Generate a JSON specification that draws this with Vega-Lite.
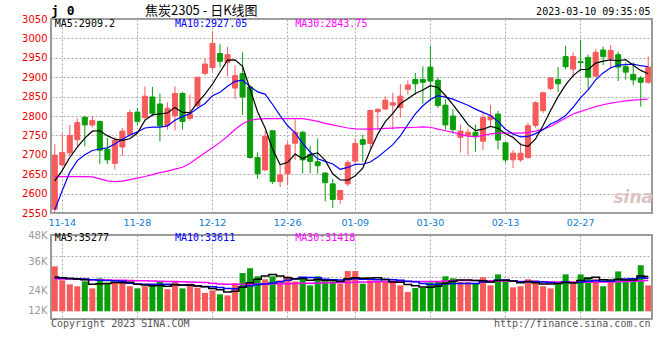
{
"$schema": "https://vega.github.io/schema/vega-lite/v6.json",
"background": "white",
"padding": {"left": 20, "top": 4, "right": 5, "bottom": 4},
"spacing": 1,
"datasets": {"k": [
{"d":"2022-11-11","o":2560,"h":2727,"l":2552,"c":2699,"m5":2633,"m10":2558,"m30":2644,"v":30100,"v5":24000,"v10":23600,"v30":23000},
{"d":"2022-11-14","o":2674,"h":2754,"l":2670,"c":2706,"m5":2660,"m10":2608,"m30":2644,"v":22100,"v5":23600,"v10":23400,"v30":22900},
{"d":"2022-11-15","o":2705,"h":2777,"l":2697,"c":2750,"m5":2693,"m10":2655,"m30":2644,"v":19800,"v5":23200,"v10":23200,"v30":22800},
{"d":"2022-11-16","o":2739,"h":2794,"l":2722,"c":2783,"m5":2720,"m10":2685,"m30":2644,"v":18700,"v5":22800,"v10":23000,"v30":22700},
{"d":"2022-11-17","o":2797,"h":2800,"l":2722,"c":2777,"m5":2743,"m10":2700,"m30":2644,"v":21500,"v5":22440,"v10":22800,"v30":22600},
{"d":"2022-11-18","o":2777,"h":2800,"l":2771,"c":2788,"m5":2760.8,"m10":2711,"m30":2643,"v":17500,"v5":19920,"v10":22500,"v30":22500},
{"d":"2022-11-21","o":2786,"h":2788,"l":2676,"c":2712,"m5":2762,"m10":2715,"m30":2638,"v":23200,"v5":20140,"v10":22200,"v30":22400},
{"d":"2022-11-22","o":2714,"h":2744,"l":2676,"c":2687,"m5":2749.4,"m10":2718,"m30":2633,"v":20400,"v5":20260,"v10":22000,"v30":22300},
{"d":"2022-11-23","o":2678,"h":2745,"l":2662,"c":2737,"m5":2740.2,"m10":2728,"m30":2631,"v":21500,"v5":20820,"v10":21800,"v30":22200},
{"d":"2022-11-24","o":2720,"h":2769,"l":2697,"c":2761,"m5":2737,"m10":2740,"m30":2632,"v":21000,"v5":20720,"v10":21580,"v30":22100},
{"d":"2022-11-25","o":2752,"h":2816,"l":2745,"c":2809,"m5":2741.2,"m10":2751,"m30":2636,"v":18700,"v5":20960,"v10":20440,"v30":22000},
{"d":"2022-11-28","o":2810,"h":2821,"l":2775,"c":2786,"m5":2756,"m10":2759,"m30":2640,"v":17500,"v5":19820,"v10":19980,"v30":21900},
{"d":"2022-11-29","o":2796,"h":2876,"l":2790,"c":2851,"m5":2788.8,"m10":2769.1,"m30":2644,"v":18700,"v5":19480,"v10":19870,"v30":21800},
{"d":"2022-11-30","o":2849,"h":2875,"l":2800,"c":2807,"m5":2802.8,"m10":2771.5,"m30":2649,"v":19200,"v5":19020,"v10":19920,"v30":21700},
{"d":"2022-12-01","o":2831,"h":2858,"l":2735,"c":2775,"m5":2805.6,"m10":2771.3,"m30":2654,"v":21300,"v5":19080,"v10":19900,"v30":21600},
{"d":"2022-12-02","o":2776,"h":2835,"l":2765,"c":2820,"m5":2807.8,"m10":2774.5,"m30":2658,"v":17000,"v5":18740,"v10":19850,"v30":21500},
{"d":"2022-12-05","o":2801,"h":2876,"l":2763,"c":2858,"m5":2822.2,"m10":2789.1,"m30":2663,"v":21500,"v5":19540,"v10":19680,"v30":21400},
{"d":"2022-12-06","o":2858,"h":2862,"l":2765,"c":2786,"m5":2809.2,"m10":2799,"m30":2668,"v":17500,"v5":19300,"v10":19390,"v30":21300},
{"d":"2022-12-07","o":2794,"h":2855,"l":2788,"c":2805,"m5":2808.8,"m10":2805.8,"m30":2678,"v":20200,"v5":19500,"v10":19260,"v30":21200},
{"d":"2022-12-08","o":2827,"h":2901,"l":2818,"c":2900,"m5":2833.8,"m10":2819.7,"m30":2692,"v":17900,"v5":18820,"v10":18950,"v30":21000},
{"d":"2022-12-09","o":2910,"h":2949,"l":2905,"c":2934,"m5":2856.6,"m10":2832.2,"m30":2705,"v":14900,"v5":18400,"v10":18570,"v30":20800},
{"d":"2022-12-12","o":2925,"h":3018,"l":2915,"c":2987,"m5":2882.4,"m10":2852.3,"m30":2718,"v":16400,"v5":17380,"v10":18460,"v30":20500},
{"d":"2022-12-13","o":2961,"h":2986,"l":2925,"c":2941,"m5":2913.4,"m10":2861.3,"m30":2732,"v":14100,"v5":16700,"v10":18000,"v30":20000},
{"d":"2022-12-14","o":2938,"h":2978,"l":2902,"c":2958,"m5":2944,"m10":2876.4,"m30":2748,"v":13500,"v5":15360,"v10":17430,"v30":19900},
{"d":"2022-12-15","o":2872,"h":2930,"l":2843,"c":2904,"m5":2944.8,"m10":2889.3,"m30":2765,"v":20400,"v5":15860,"v10":17340,"v30":19800},
{"d":"2022-12-16","o":2909,"h":2964,"l":2803,"c":2849,"m5":2927.8,"m10":2892.2,"m30":2780,"v":26300,"v5":18140,"v10":18270,"v30":19800},
{"d":"2022-12-19","o":2875,"h":2880,"l":2690,"c":2693,"m5":2869,"m10":2875.7,"m30":2789,"v":29000,"v5":20660,"v10":19020,"v30":19900},
{"d":"2022-12-20","o":2693,"h":2706,"l":2638,"c":2651,"m5":2811,"m10":2862.2,"m30":2792,"v":24400,"v5":22720,"v10":19710,"v30":20000},
{"d":"2022-12-21","o":2661,"h":2761,"l":2659,"c":2748,"m5":2769,"m10":2856.5,"m30":2793,"v":22700,"v5":24560,"v10":19960,"v30":20000},
{"d":"2022-12-22","o":2762,"h":2762,"l":2625,"c":2631,"m5":2714.4,"m10":2829.6,"m30":2793,"v":24400,"v5":25360,"v10":20610,"v30":20100},
{"d":"2022-12-23","o":2631,"h":2672,"l":2617,"c":2648,"m5":2674.2,"m10":2801,"m30":2793,"v":22100,"v5":24520,"v10":21330,"v30":20100},
{"d":"2022-12-26","o":2651,"h":2734,"l":2621,"c":2725,"m5":2680.6,"m10":2774.8,"m30":2793,"v":24400,"v5":23600,"v10":22130,"v30":20200},
{"d":"2022-12-27","o":2730,"h":2792,"l":2686,"c":2758,"m5":2702,"m10":2756.5,"m30":2793,"v":21500,"v5":23020,"v10":22870,"v30":20300},
{"d":"2022-12-28","o":2758,"h":2762,"l":2652,"c":2687,"m5":2689.8,"m10":2729.4,"m30":2793,"v":23200,"v5":23120,"v10":23840,"v30":20400},
{"d":"2022-12-29","o":2701,"h":2723,"l":2652,"c":2683,"m5":2700.2,"m10":2707.3,"m30":2790,"v":19200,"v5":22080,"v10":23720,"v30":20500},
{"d":"2022-12-30","o":2682,"h":2742,"l":2651,"c":2672,"m5":2705,"m10":2689.6,"m30":2786,"v":24400,"v5":22540,"v10":23530,"v30":20550},
{"d":"2023-01-03","o":2653,"h":2655,"l":2580,"c":2628,"m5":2685.6,"m10":2683.1,"m30":2781,"v":21500,"v5":21960,"v10":22780,"v30":20650},
{"d":"2023-01-04","o":2625,"h":2638,"l":2563,"c":2585,"m5":2651,"m10":2676.5,"m30":2777,"v":21500,"v5":21960,"v10":22490,"v30":20750},
{"d":"2023-01-05","o":2585,"h":2610,"l":2574,"c":2608,"m5":2635.2,"m10":2662.5,"m30":2773,"v":20200,"v5":21360,"v10":22240,"v30":20850},
{"d":"2023-01-06","o":2625,"h":2686,"l":2620,"c":2680,"m5":2634.6,"m10":2667.4,"m30":2769,"v":27400,"v5":23000,"v10":22540,"v30":20900},
{"d":"2023-01-09","o":2684,"h":2742,"l":2672,"c":2729,"m5":2646,"m10":2675.5,"m30":2767,"v":27400,"v5":23600,"v10":23070,"v30":21000},
{"d":"2023-01-10","o":2739,"h":2752,"l":2682,"c":2727,"m5":2665.8,"m10":2675.7,"m30":2766,"v":20200,"v5":23340,"v10":22650,"v30":21100},
{"d":"2023-01-11","o":2729,"h":2816,"l":2716,"c":2814,"m5":2711.6,"m10":2681.3,"m30":2766,"v":22100,"v5":23460,"v10":22710,"v30":21200},
{"d":"2023-01-12","o":2811,"h":2820,"l":2765,"c":2817,"m5":2753.4,"m10":2694.3,"m30":2767,"v":21100,"v5":23640,"v10":22500,"v30":21300},
{"d":"2023-01-13","o":2818,"h":2851,"l":2816,"c":2841,"m5":2785.6,"m10":2710.1,"m30":2768,"v":21100,"v5":22380,"v10":22690,"v30":21350},
{"d":"2023-01-16","o":2828,"h":2860,"l":2765,"c":2834,"m5":2806.6,"m10":2726.3,"m30":2769,"v":21500,"v5":21200,"v10":22400,"v30":21400},
{"d":"2023-01-17","o":2822,"h":2882,"l":2796,"c":2851,"m5":2831.4,"m10":2748.6,"m30":2770,"v":19200,"v5":21000,"v10":22170,"v30":21400},
{"d":"2023-01-18","o":2869,"h":2892,"l":2855,"c":2880,"m5":2844.6,"m10":2778.1,"m30":2770,"v":15400,"v5":19660,"v10":21560,"v30":21400},
{"d":"2023-01-19","o":2894,"h":2911,"l":2855,"c":2883,"m5":2857.8,"m10":2805.6,"m30":2771,"v":17700,"v5":18980,"v10":21310,"v30":21400},
{"d":"2023-01-20","o":2894,"h":2928,"l":2832,"c":2887,"m5":2867,"m10":2826.3,"m30":2772,"v":17700,"v5":18300,"v10":20340,"v30":21400},
{"d":"2023-01-30","o":2926,"h":2981,"l":2837,"c":2890,"m5":2878.2,"m10":2842.4,"m30":2771,"v":21000,"v5":18200,"v10":19700,"v30":21370},
{"d":"2023-01-31","o":2892,"h":2900,"l":2821,"c":2827,"m5":2873.4,"m10":2852.4,"m30":2766,"v":21500,"v5":18660,"v10":19830,"v30":21500},
{"d":"2023-02-01","o":2828,"h":2843,"l":2765,"c":2777,"m5":2852.8,"m10":2848.7,"m30":2762,"v":24400,"v5":20460,"v10":20060,"v30":21650},
{"d":"2023-02-02","o":2800,"h":2818,"l":2755,"c":2765,"m5":2829.2,"m10":2843.5,"m30":2758,"v":23200,"v5":21560,"v10":20270,"v30":21800},
{"d":"2023-02-03","o":2745,"h":2778,"l":2706,"c":2761,"m5":2804,"m10":2835.5,"m30":2752,"v":21100,"v5":22240,"v10":20270,"v30":21950},
{"d":"2023-02-06","o":2750,"h":2767,"l":2700,"c":2758,"m5":2777.6,"m10":2827.9,"m30":2748,"v":21100,"v5":22260,"v10":20230,"v30":22050},
{"d":"2023-02-07","o":2758,"h":2778,"l":2708,"c":2750,"m5":2762.2,"m10":2817.8,"m30":2746,"v":20400,"v5":22040,"v10":20350,"v30":21950},
{"d":"2023-02-08","o":2735,"h":2811,"l":2712,"c":2796,"m5":2766,"m10":2809.4,"m30":2750,"v":23800,"v5":21920,"v10":21190,"v30":21900},
{"d":"2023-02-09","o":2790,"h":2828,"l":2773,"c":2800,"m5":2773,"m10":2801.1,"m30":2754,"v":19200,"v5":21120,"v10":21340,"v30":21800},
{"d":"2023-02-10","o":2805,"h":2813,"l":2714,"c":2738,"m5":2768.4,"m10":2786.2,"m30":2756,"v":25500,"v5":22000,"v10":22120,"v30":21750},
{"d":"2023-02-13","o":2731,"h":2733,"l":2680,"c":2687,"m5":2754.2,"m10":2765.9,"m30":2756,"v":22100,"v5":22200,"v10":22230,"v30":21670},
{"d":"2023-02-14","o":2687,"h":2712,"l":2666,"c":2704,"m5":2745,"m10":2753.6,"m30":2756,"v":18100,"v5":21740,"v10":21890,"v30":21600},
{"d":"2023-02-15","o":2687,"h":2731,"l":2682,"c":2704,"m5":2726.6,"m10":2746.3,"m30":2756,"v":18700,"v5":20720,"v10":21320,"v30":21500},
{"d":"2023-02-16","o":2693,"h":2783,"l":2690,"c":2775,"m5":2721.6,"m10":2747.3,"m30":2758,"v":22700,"v5":21420,"v10":21270,"v30":21400},
{"d":"2023-02-17","o":2776,"h":2838,"l":2770,"c":2834,"m5":2740.8,"m10":2754.6,"m30":2761,"v":22100,"v5":20740,"v10":21370,"v30":21300},
{"d":"2023-02-20","o":2814,"h":2862,"l":2808,"c":2860,"m5":2775.4,"m10":2764.8,"m30":2766,"v":18700,"v5":20060,"v10":21130,"v30":21250},
{"d":"2023-02-21","o":2871,"h":2900,"l":2866,"c":2898,"m5":2814.2,"m10":2779.6,"m30":2773,"v":17500,"v5":19940,"v10":20840,"v30":21200},
{"d":"2023-02-22","o":2894,"h":2926,"l":2862,"c":2883,"m5":2850,"m10":2788.3,"m30":2784,"v":20200,"v5":20240,"v10":20480,"v30":21100},
{"d":"2023-02-23","o":2953,"h":2981,"l":2920,"c":2927,"m5":2880.4,"m10":2801,"m30":2795,"v":25500,"v5":20800,"v10":21110,"v30":21050},
{"d":"2023-02-24","o":2921,"h":2964,"l":2900,"c":2953,"m5":2904.2,"m10":2822.5,"m30":2805,"v":21500,"v5":20680,"v10":20710,"v30":21000},
{"d":"2023-02-27","o":2940,"h":2996,"l":2915,"c":2938,"m5":2919.8,"m10":2847.6,"m30":2812,"v":25500,"v5":22040,"v10":21050,"v30":20990},
{"d":"2023-02-28","o":2951,"h":2958,"l":2868,"c":2900,"m5":2920.2,"m10":2867.2,"m30":2818,"v":23800,"v5":23300,"v10":21620,"v30":21050},
{"d":"2023-03-01","o":2903,"h":2972,"l":2900,"c":2964,"m5":2936.4,"m10":2893.2,"m30":2824,"v":22700,"v5":23800,"v10":22020,"v30":21100},
{"d":"2023-03-02","o":2970,"h":2979,"l":2931,"c":2953,"m5":2941.6,"m10":2911,"m30":2829,"v":18700,"v5":22440,"v10":21620,"v30":21150},
{"d":"2023-03-03","o":2948,"h":2983,"l":2921,"c":2969,"m5":2944.8,"m10":2924.5,"m30":2833,"v":21000,"v5":22340,"v10":21510,"v30":21200},
{"d":"2023-03-06","o":2958,"h":2966,"l":2890,"c":2926,"m5":2942.4,"m10":2931.1,"m30":2836,"v":27200,"v5":22680,"v10":22360,"v30":21240},
{"d":"2023-03-07","o":2927,"h":2938,"l":2894,"c":2913,"m5":2945,"m10":2932.6,"m30":2839,"v":22100,"v5":22340,"v10":22820,"v30":21400},
{"d":"2023-03-08","o":2907,"h":2938,"l":2879,"c":2893,"m5":2930.8,"m10":2933.6,"m30":2841,"v":22100,"v5":22220,"v10":23010,"v30":21600},
{"d":"2023-03-09","o":2898,"h":2903,"l":2824,"c":2887,"m5":2917.6,"m10":2929.6,"m30":2842,"v":30700,"v5":24620,"v10":23530,"v30":21800},
{"d":"2023-03-10","o":2887,"h":2953,"l":2883,"c":2926,"m5":2909,"m10":2926.9,"m30":2843.75,"v":19200,"v5":24260,"v10":23300,"v30":22040}
]},
"vconcat": [
{
"width": 601, "height": 194,
"layer": [
{"data": {"name": "k"}, "mark": {"type": "rule", "strokeWidth": 1},
 "encoding": {
  "x": {"field": "d", "type": "ordinal", "scale": {"paddingInner": 0, "paddingOuter": 0},
        "axis": {"values": ["2022-11-14","2022-11-28","2022-12-12","2022-12-26","2023-01-09","2023-01-30","2023-02-13","2023-02-27"],
                 "labelExpr": "substring(datum.value, 5)", "title": null, "grid": true, "gridColor": "#aaaaaa", "gridDash": [2, 2],
                 "ticks": false, "tickSize": 0, "domain": false, "labelAngle": 0, "labelColor": "#0a7bd5", "labelFont": "DejaVu Sans",
                 "labelFontSize": 9.5, "labelPadding": 4, "labelOverlap": false, "labelBound": false, "bandPosition": 0.5}},
  "y": {"field": "l", "type": "quantitative", "scale": {"domain": [2550, 3050], "nice": false, "zero": false},
        "axis": {"title": null, "values": [2550,2600,2650,2700,2750,2800,2850,2900,2950,3000,3050], "format": "d", "grid": true,
                 "gridColor": "#aaaaaa", "gridDash": [2, 2], "ticks": false, "tickSize": 0, "domain": false,
                 "labelColor": "#ee0000", "labelFont": "DejaVu Sans", "labelFontSize": 10, "labelPadding": 4,
                 "minExtent": 30, "maxExtent": 30, "labelOverlap": false, "orient": "left"}},
  "y2": {"field": "h"},
  "color": {"condition": {"test": "datum.c >= datum.o", "value": "#f65a5a"}, "value": "#0a9e0a"}
 }},
{"data": {"name": "k"}, "mark": {"type": "bar", "size": 5, "strokeWidth": 1},
 "encoding": {
  "x": {"field": "d", "type": "ordinal"},
  "y": {"field": "o", "type": "quantitative", "axis": null},
  "y2": {"field": "c"},
  "fill": {"condition": {"test": "datum.c >= datum.o", "value": "#f65a5a"}, "value": "#0a9e0a"},
  "stroke": {"condition": {"test": "datum.c >= datum.o", "value": "#f65a5a"}, "value": "#0a9e0a"}
 }},
{"data": {"name": "k"}, "mark": {"type": "line", "color": "#ff00ff", "strokeWidth": 1.2},
 "encoding": {"x": {"field": "d", "type": "ordinal"}, "y": {"field": "m30", "type": "quantitative", "axis": null}}},
{"data": {"name": "k"}, "mark": {"type": "line", "color": "#0000ff", "strokeWidth": 1.2},
 "encoding": {"x": {"field": "d", "type": "ordinal"}, "y": {"field": "m10", "type": "quantitative", "axis": null}}},
{"data": {"name": "k"}, "mark": {"type": "line", "color": "#000000", "strokeWidth": 1.2},
 "encoding": {"x": {"field": "d", "type": "ordinal"}, "y": {"field": "m5", "type": "quantitative", "axis": null}}},
{"data": {"values": [{"d": "2022-11-11", "t": "MA5:2909.2", "s": "MA5"}, {"d": "2022-12-05", "t": "MA10:2927.05", "s": "MA10"}, {"d": "2022-12-27", "t": "MA30:2843.75", "s": "MA30"}]},
 "mark": {"type": "text", "align": "left", "baseline": "middle", "font": "DejaVu Sans Mono", "fontSize": 10},
 "encoding": {"x": {"field": "d", "type": "ordinal"},
              "y": {"datum": 3037, "type": "quantitative", "axis": null},
              "text": {"field": "t"},
              "color": {"field": "s", "type": "nominal", "scale": {"domain": ["MA5", "MA10", "MA30"], "range": ["#000000", "#0000ff", "#ff00ff"]}, "legend": null}}},
{"data": {"values": [{"d": "2022-11-11", "t": "j 0"}]},
 "mark": {"type": "text", "align": "left", "baseline": "middle", "font": "DejaVu Sans Mono", "fontSize": 13, "fontWeight": "bold", "color": "#000000"},
 "encoding": {"x": {"field": "d", "type": "ordinal", "bandPosition": 0},
              "y": {"datum": 3070, "type": "quantitative", "axis": null}, "text": {"field": "t"}}},
{"data": {"values": [{"d": "2022-12-09", "t": "焦炭2305 - 日K线图"}]},
 "mark": {"type": "text", "align": "center", "baseline": "middle", "font": "Noto Sans CJK SC", "fontSize": 13, "color": "#000000"},
 "encoding": {"x": {"field": "d", "type": "ordinal", "bandPosition": 0},
              "y": {"datum": 3070, "type": "quantitative", "axis": null}, "text": {"field": "t"}}},
{"data": {"values": [{"d": "2023-03-10", "t": "2023-03-10 09:35:05"}]},
 "mark": {"type": "text", "align": "right", "baseline": "middle", "font": "DejaVu Sans Mono", "fontSize": 10, "color": "#000000"},
 "encoding": {"x": {"field": "d", "type": "ordinal", "bandPosition": 0.8},
              "y": {"datum": 3068, "type": "quantitative", "axis": null}, "text": {"field": "t"}}},
{"data": {"values": [{"d": "2023-03-08", "t": "sina"}]},
 "mark": {"type": "text", "align": "center", "baseline": "middle", "font": "DejaVu Sans", "fontSize": 17, "fontWeight": "bold", "fontStyle": "italic", "color": "#dcc4c4"},
 "encoding": {"x": {"field": "d", "type": "ordinal"},
              "y": {"datum": 2588, "type": "quantitative", "axis": null}, "text": {"field": "t"}}}
],
"resolve": {"axis": {"y": "independent"}}
},
{
"width": 601, "height": 84,
"layer": [
{"data": {"name": "k"}, "mark": {"type": "bar", "size": 6},
 "encoding": {
  "x": {"field": "d", "type": "ordinal", "scale": {"paddingInner": 0, "paddingOuter": 0},
        "axis": {"values": ["2022-11-14","2022-11-28","2022-12-12","2022-12-26","2023-01-09","2023-01-30","2023-02-13","2023-02-27"],
                 "labels": false, "title": null, "grid": true, "gridColor": "#aaaaaa", "gridDash": [2, 2],
                 "ticks": false, "tickSize": 0, "domain": false, "bandPosition": 0.5}},
  "y": {"field": "v", "type": "quantitative", "scale": {"domain": [0, 48000], "nice": false, "zero": false},
        "axis": {"title": null, "values": [12000, 24000, 36000], "grid": true, "gridColor": "#aaaaaa", "gridDash": [2, 2],
                 "labels": false, "ticks": false, "tickSize": 0, "domain": false, "minExtent": 0, "maxExtent": 0, "orient": "left"}},
  "y2": {"datum": 4400},
  "color": {"condition": {"test": "datum.c >= datum.o", "value": "#f65a5a"}, "value": "#0a9e0a"}
 }},
{"data": {"name": "k"}, "mark": {"type": "line", "color": "#ff00ff", "strokeWidth": 1.5, "interpolate": "step"},
 "encoding": {"x": {"field": "d", "type": "ordinal"},
              "y": {"field": "v30", "type": "quantitative",
                    "axis": {"title": null, "orient": "left", "values": [5000, 16400, 33000, 48000],
                             "labelExpr": "datum.value > 40000 ? '48K' : datum.value > 30000 ? '36K' : datum.value > 10000 ? '24K' : '12K'",
                             "grid": false, "ticks": false, "tickSize": 0, "domain": false, "labelColor": "#999999",
                             "labelFont": "DejaVu Sans", "labelFontSize": 10, "labelPadding": 4,
                             "minExtent": 30, "maxExtent": 30, "labelOverlap": false}}}},
{"data": {"name": "k"}, "mark": {"type": "line", "color": "#0000ff", "strokeWidth": 1.5, "interpolate": "step"},
 "encoding": {"x": {"field": "d", "type": "ordinal"},
              "y": {"field": "v10", "type": "quantitative", "axis": null}}},
{"data": {"name": "k"}, "mark": {"type": "line", "color": "#000000", "strokeWidth": 1.5, "interpolate": "step"},
 "encoding": {"x": {"field": "d", "type": "ordinal"},
              "y": {"field": "v5", "type": "quantitative", "axis": null}}},
{"data": {"values": [{"d": "2022-11-11", "t": "MA5:35277", "s": "MA5"}, {"d": "2022-12-05", "t": "MA10:33611", "s": "MA10"}, {"d": "2022-12-27", "t": "MA30:31418", "s": "MA30"}]},
 "mark": {"type": "text", "align": "left", "baseline": "middle", "font": "DejaVu Sans Mono", "fontSize": 10},
 "encoding": {"x": {"field": "d", "type": "ordinal"},
              "y": {"datum": 46100, "type": "quantitative", "axis": null},
              "text": {"field": "t"},
              "color": {"field": "s", "type": "nominal", "scale": {"domain": ["MA5", "MA10", "MA30"], "range": ["#000000", "#0000ff", "#ff00ff"]}, "legend": null}}},
{"data": {"values": [{"d": "2022-11-11", "t": "Copyright 2023 SINA.COM"}]},
 "mark": {"type": "text", "align": "left", "baseline": "middle", "font": "DejaVu Sans Mono", "fontSize": 10, "color": "#555555"},
 "encoding": {"x": {"field": "d", "type": "ordinal", "bandPosition": 0},
              "y": {"datum": -2600, "type": "quantitative", "axis": null}, "text": {"field": "t"}}},
{"data": {"values": [{"d": "2023-03-10", "t": "http://finance.sina.com.cn"}]},
 "mark": {"type": "text", "align": "right", "baseline": "middle", "font": "DejaVu Sans Mono", "fontSize": 10, "color": "#555555"},
 "encoding": {"x": {"field": "d", "type": "ordinal", "bandPosition": 0.8},
              "y": {"datum": -2600, "type": "quantitative", "axis": null}, "text": {"field": "t"}}}
],
"resolve": {"axis": {"y": "independent"}}
}
],
"config": {
 "view": {"stroke": "#9a9a9a", "strokeWidth": 2},
 "font": "DejaVu Sans"
}
}
